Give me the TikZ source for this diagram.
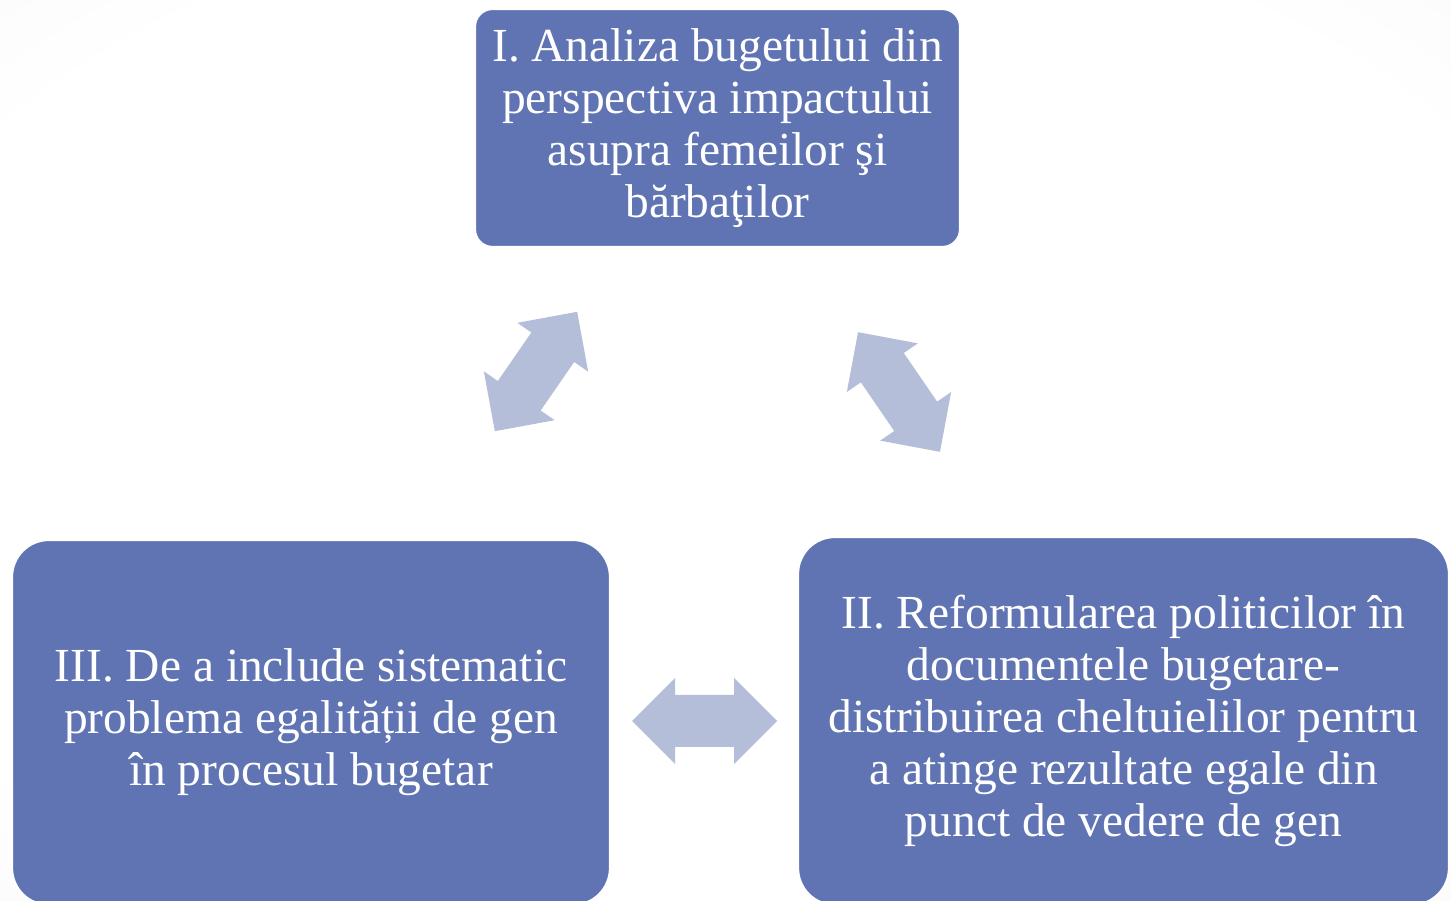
\documentclass[tikz,border=0pt]{standalone}
\usepackage{fontspec}
\setmainfont{Liberation Serif}
\usetikzlibrary{positioning}
\definecolor{boxblue}{HTML}{6074B3}
\definecolor{arrowblue}{HTML}{B5BED8}
\definecolor{edgegrey}{HTML}{F4F4F4}
\pgfdeclareradialshading{pagebg}{\pgfpoint{0bp}{0bp}}{color(0bp)=(white);
  color(30bp)=(white); color(50bp)=(edgegrey); color(72bp)=(edgegrey)}

\tikzset{
  stage/.style={rectangle, rounded corners=#1, fill=boxblue, draw=white,
    line width=1.2pt, text=white, align=center, inner sep=0pt,
    font=\fontsize{27}{29.6}\selectfont},
  pics/twoway/.style={code={
    \fill[arrowblue] (-72.5,0) -- (-29.5,43) -- (-29.5,26) -- (29.5,26)
      -- (29.5,43) -- (72.5,0) -- (29.5,-43) -- (29.5,-26) -- (-29.5,-26)
      -- (-29.5,-43) -- cycle;
  }}
}

\begin{document}
\begin{tikzpicture}[x=0.02cm,y=-0.02cm]
\useasboundingbox (0,0) rectangle (1451,901);
\clip (0,0) rectangle (1451,901);
% background
\shade[shading=pagebg] (0,0) rectangle (1451,901);

% I.
\node[stage=10pt, minimum width=9.7cm, minimum height=4.76cm] (analiza) at (717.5,128)
  {I. Analiza bugetului din\\ perspectiva impactului\\ asupra femeilor şi\\ bărbaţilor};

% II.
\node[stage=21pt, minimum width=13.02cm, minimum height=7.36cm] (reformulare) at (1123.5,721)
  {II. Reformularea politicilor în\\ documentele bugetare-\\ distribuirea cheltuielilor pentru\\ a atinge  rezultate egale din\\ punct de vedere de gen};

% III.
\node[stage=21pt, minimum width=11.96cm, minimum height=7.3cm] (includere) at (311,722.5)
  {III. De a include sistematic\\ problema egalității de gen\\ în procesul bugetar};

% arrows between stages
\pic[rotate=55.4] at (536,371.5) {twoway};
\pic[rotate=-55.6] at (899,392) {twoway};
\pic at (704.5,721) {twoway};
\end{tikzpicture}
\end{document}
